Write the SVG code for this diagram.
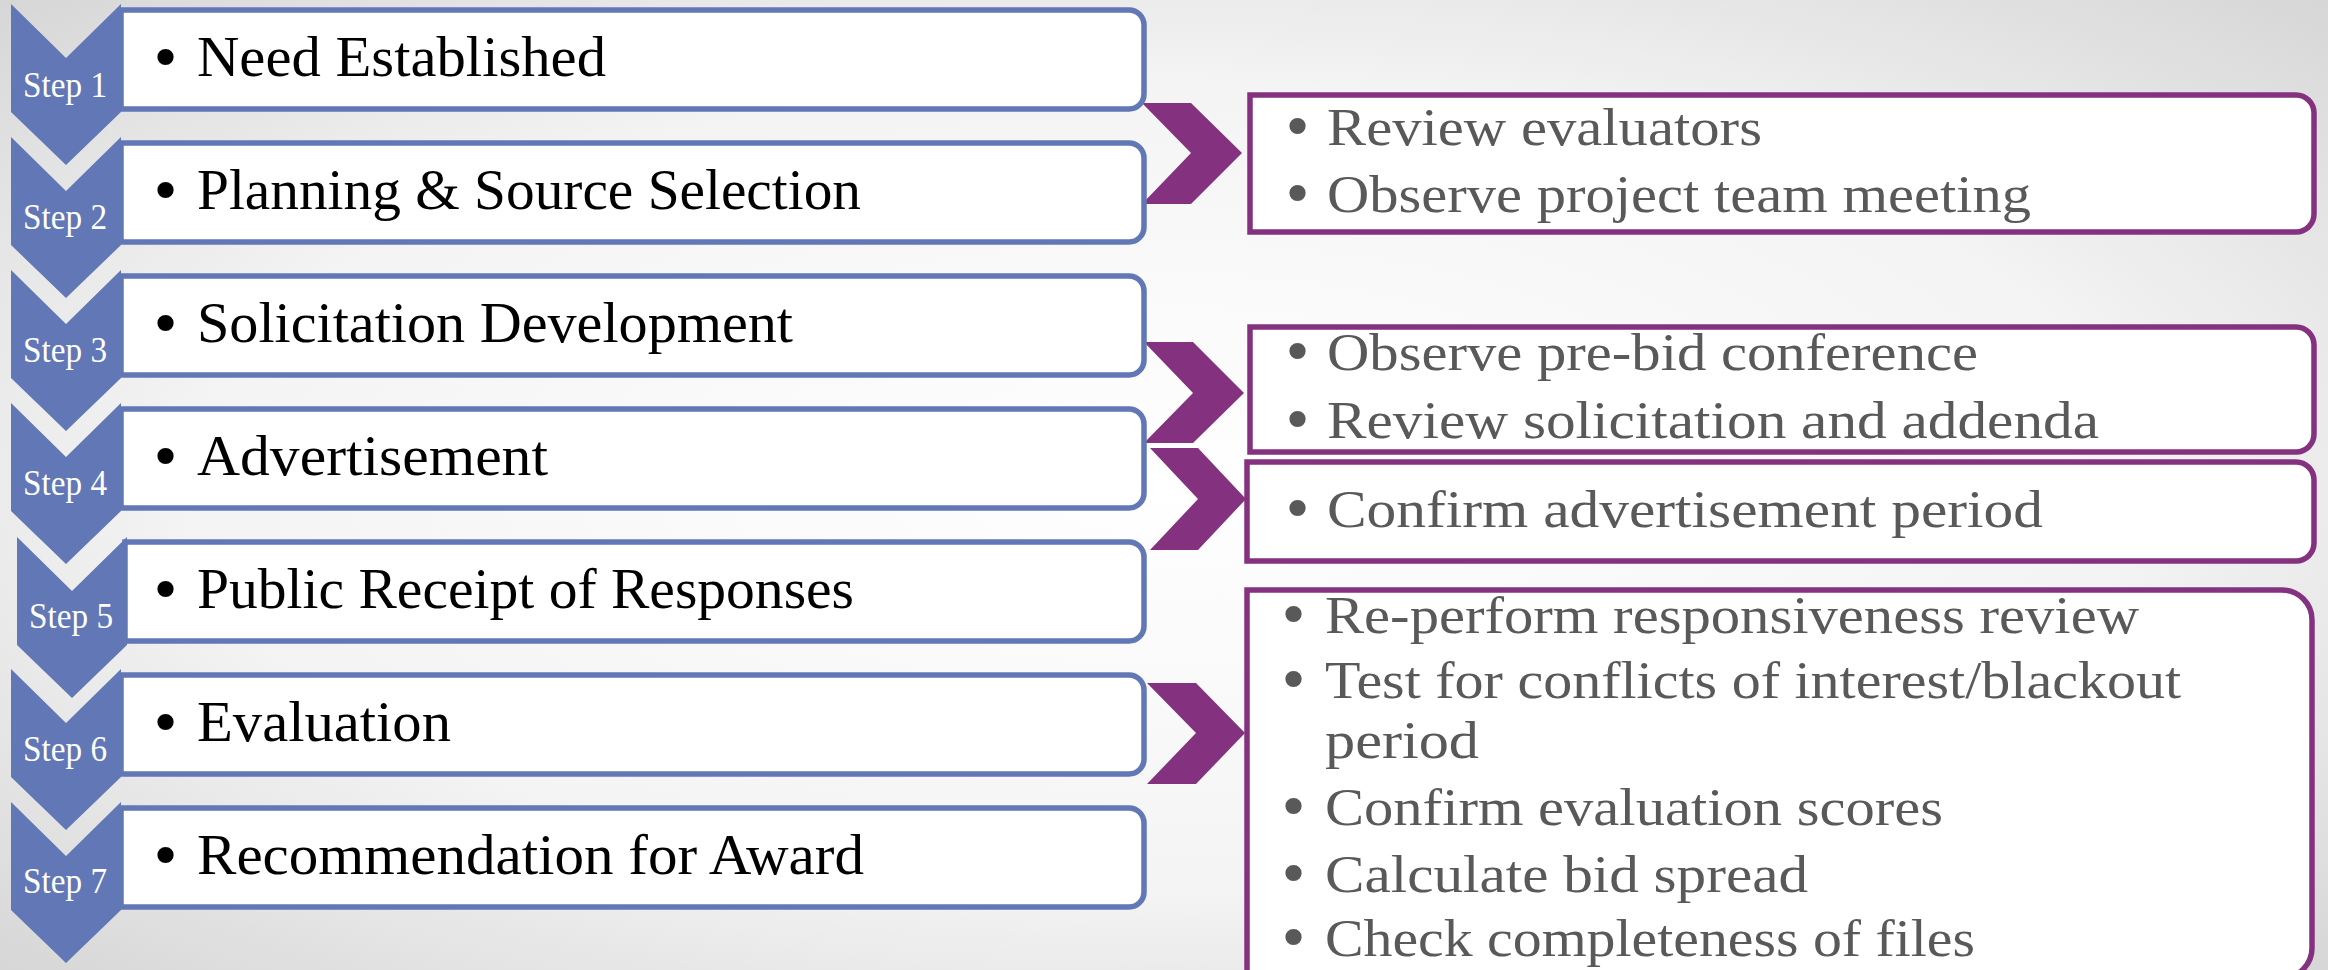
<svg xmlns="http://www.w3.org/2000/svg" xmlns:xlink="http://www.w3.org/1999/xlink" width="2328" height="970" viewBox="0 0 2328 970">
<defs>
<radialGradient id="bg" cx="0.5" cy="0.5" r="0.75" gradientUnits="objectBoundingBox">
<stop offset="0" stop-color="#ffffff"/>
<stop offset="0.55" stop-color="#f4f4f4"/>
<stop offset="1" stop-color="#d2d2d2"/>
</radialGradient>
<path id="chev" d="M11 0 L66 54 L121 0 L121 108 L66 161 L11 108 Z"/>
<style>
.chev{fill:#6177b6}
.box{fill:#ffffff;stroke:#6177b6;stroke-width:5.5}
.pbox{fill:#ffffff;stroke:#84327f;stroke-width:5.5}
.parrow{fill:#84327f}
.step{font-family:"Liberation Serif",serif;font-size:35px;fill:#ffffff}
.lt{font-family:"Liberation Serif",serif;font-size:57px;fill:#000000}
.rt{font-family:"Liberation Serif",serif;font-size:53px;fill:#595959}
.bul{font-family:"DejaVu Sans",sans-serif;font-size:56px}
</style>
</defs>
<rect x="0" y="0" width="2328" height="970" fill="url(#bg)"/>

<g id="connectors">
<path class="parrow" d="M1142 103 L1191 103 L1242 153 L1191 204 L1142 204 L1191 153 Z"/>
<path class="parrow" d="M1144 342 L1193 342 L1244 393 L1193 443 L1144 443 L1193 393 Z"/>
<path class="parrow" d="M1150 448 L1198 448 L1246 499 L1198 550 L1150 550 L1198 499 Z"/>
<path class="parrow" d="M1147 683 L1196 683 L1245 733 L1196 784 L1147 784 L1196 733 Z"/>
</g>

<g id="step1">
<path class="box" d="M121 10 H1129 A15 15 0 0 1 1144 25 V94 A15 15 0 0 1 1129 109 H121 Z"/>
<use xlink:href="#chev" class="chev" transform="translate(0,4)"/>
<text class="step" x="23" y="97" textLength="84" lengthAdjust="spacingAndGlyphs">Step 1</text>
<text class="lt"><tspan class="bul" x="149" y="78">•</tspan><tspan x="197" y="76" textLength="409" lengthAdjust="spacingAndGlyphs">Need Established</tspan></text>
</g>
<g id="step2">
<path class="box" d="M121 143 H1129 A15 15 0 0 1 1144 158 V227 A15 15 0 0 1 1129 242 H121 Z"/>
<use xlink:href="#chev" class="chev" transform="translate(0,137)"/>
<text class="step" x="23" y="229" textLength="84" lengthAdjust="spacingAndGlyphs">Step 2</text>
<text class="lt"><tspan class="bul" x="149" y="211">•</tspan><tspan x="197" y="209" textLength="664" lengthAdjust="spacingAndGlyphs">Planning &amp; Source Selection</tspan></text>
</g>
<g id="step3">
<path class="box" d="M121 276 H1129 A15 15 0 0 1 1144 291 V360 A15 15 0 0 1 1129 375 H121 Z"/>
<use xlink:href="#chev" class="chev" transform="translate(0,270)"/>
<text class="step" x="23" y="362" textLength="84" lengthAdjust="spacingAndGlyphs">Step 3</text>
<text class="lt"><tspan class="bul" x="149" y="344">•</tspan><tspan x="197" y="342" textLength="596" lengthAdjust="spacingAndGlyphs">Solicitation Development</tspan></text>
</g>
<g id="step4">
<path class="box" d="M121 409 H1129 A15 15 0 0 1 1144 424 V493 A15 15 0 0 1 1129 508 H121 Z"/>
<use xlink:href="#chev" class="chev" transform="translate(0,403)"/>
<text class="step" x="23" y="495" textLength="84" lengthAdjust="spacingAndGlyphs">Step 4</text>
<text class="lt"><tspan class="bul" x="149" y="477">•</tspan><tspan x="197" y="475" textLength="351" lengthAdjust="spacingAndGlyphs">Advertisement</tspan></text>
</g>
<g id="step5">
<path class="box" d="M125 542 H1129 A15 15 0 0 1 1144 557 V626 A15 15 0 0 1 1129 641 H125 Z"/>
<use xlink:href="#chev" class="chev" transform="translate(6,537)"/>
<text class="step" x="29" y="628" textLength="84" lengthAdjust="spacingAndGlyphs">Step 5</text>
<text class="lt"><tspan class="bul" x="149" y="610">•</tspan><tspan x="197" y="608" textLength="657" lengthAdjust="spacingAndGlyphs">Public Receipt of Responses</tspan></text>
</g>
<g id="step6">
<path class="box" d="M121 675 H1129 A15 15 0 0 1 1144 690 V759 A15 15 0 0 1 1129 774 H121 Z"/>
<use xlink:href="#chev" class="chev" transform="translate(0,669)"/>
<text class="step" x="23" y="761" textLength="84" lengthAdjust="spacingAndGlyphs">Step 6</text>
<text class="lt"><tspan class="bul" x="149" y="743">•</tspan><tspan x="197" y="741" textLength="254" lengthAdjust="spacingAndGlyphs">Evaluation</tspan></text>
</g>
<g id="step7">
<path class="box" d="M121 808 H1129 A15 15 0 0 1 1144 823 V892 A15 15 0 0 1 1129 907 H121 Z"/>
<use xlink:href="#chev" class="chev" transform="translate(0,802)"/>
<text class="step" x="23" y="893" textLength="84" lengthAdjust="spacingAndGlyphs">Step 7</text>
<text class="lt"><tspan class="bul" x="149" y="876">•</tspan><tspan x="197" y="874" textLength="667" lengthAdjust="spacingAndGlyphs">Recommendation for Award</tspan></text>
</g>

<g id="audit1">
<path class="pbox" d="M1250 95 H2296 A18 18 0 0 1 2314 113 V214 A18 18 0 0 1 2296 232 H1250 Z"/>
<text class="rt"><tspan class="bul" x="1281" y="147">•</tspan><tspan x="1327" y="145" textLength="435" lengthAdjust="spacingAndGlyphs">Review evaluators</tspan></text>
<text class="rt"><tspan class="bul" x="1281" y="214">•</tspan><tspan x="1327" y="212" textLength="704" lengthAdjust="spacingAndGlyphs">Observe project team meeting</tspan></text>
</g>
<g id="audit2">
<path class="pbox" d="M1250 327 H2296 A18 18 0 0 1 2314 345 V434 A18 18 0 0 1 2296 452 H1250 Z"/>
<text class="rt"><tspan class="bul" x="1281" y="372">•</tspan><tspan x="1327" y="370" textLength="651" lengthAdjust="spacingAndGlyphs">Observe pre-bid conference</tspan></text>
<text class="rt"><tspan class="bul" x="1281" y="440">•</tspan><tspan x="1327" y="438" textLength="772" lengthAdjust="spacingAndGlyphs">Review solicitation and addenda</tspan></text>
</g>
<g id="audit3">
<path class="pbox" d="M1247 462 H2296 A18 18 0 0 1 2314 480 V543 A18 18 0 0 1 2296 561 H1247 Z"/>
<text class="rt"><tspan class="bul" x="1281" y="529">•</tspan><tspan x="1327" y="527" textLength="716" lengthAdjust="spacingAndGlyphs">Confirm advertisement period</tspan></text>
</g>
<g id="audit4">
<path class="pbox" d="M1247 590 H2282 A30 30 0 0 1 2312 620 V948 A30 30 0 0 1 2282 978 H1247 Z"/>
<text class="rt"><tspan class="bul" x="1277" y="635">•</tspan><tspan x="1325" y="633" textLength="814" lengthAdjust="spacingAndGlyphs">Re-perform responsiveness review</tspan></text>
<text class="rt"><tspan class="bul" x="1277" y="700">•</tspan><tspan x="1325" y="698" textLength="856" lengthAdjust="spacingAndGlyphs">Test for conflicts of interest/blackout</tspan></text>
<text class="rt"><tspan x="1325" y="758" textLength="154" lengthAdjust="spacingAndGlyphs">period</tspan></text>
<text class="rt"><tspan class="bul" x="1277" y="827">•</tspan><tspan x="1325" y="825" textLength="618" lengthAdjust="spacingAndGlyphs">Confirm evaluation scores</tspan></text>
<text class="rt"><tspan class="bul" x="1277" y="894">•</tspan><tspan x="1325" y="892" textLength="483" lengthAdjust="spacingAndGlyphs">Calculate bid spread</tspan></text>
<text class="rt"><tspan class="bul" x="1277" y="958">•</tspan><tspan x="1325" y="956" textLength="650" lengthAdjust="spacingAndGlyphs">Check completeness of files</tspan></text>
</g>
</svg>
